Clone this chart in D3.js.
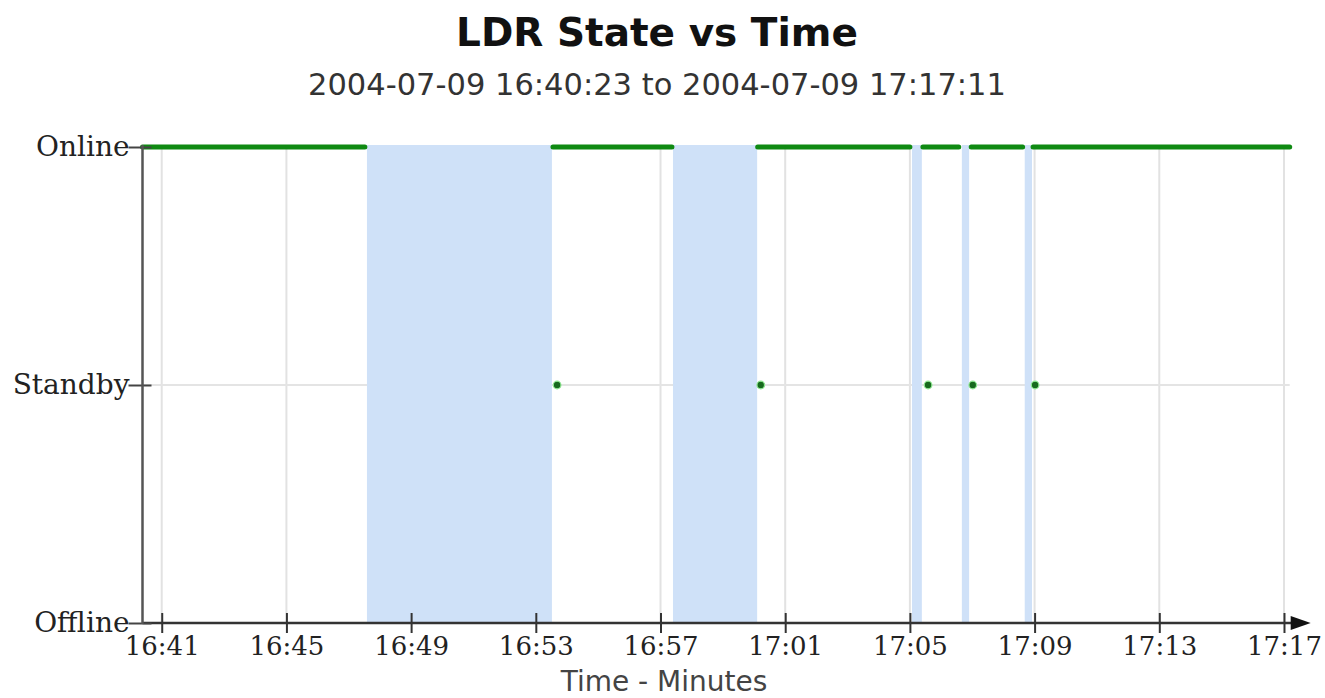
<!DOCTYPE html>
<html><head><meta charset="utf-8">
<script src="https://cdn.jsdelivr.net/npm/d3@7/dist/d3.min.js"></script>
<style>body{margin:0;background:#fff}svg{display:block}</style>
</head><body><svg id="c" width="1325" height="698"></svg>
<script>
const day = "2004-07-09 ";
const rangeStart = "16:40:23";
const rangeEnd = "17:17:11";
const states = ["Offline", "Standby", "Online"];
const tickLabels = ["16:41","16:45","16:49","16:53","16:57","17:01","17:05","17:09","17:13","17:17"];
const onlineStarts = ["16:40:23","16:53:33","17:00:07","17:05:25","17:06:58","17:08:57"];
const onlineEnds   = ["16:47:31","16:57:22","17:05:00","17:06:34","17:08:37","17:17:11"];
const gapStarts = ["16:47:35","16:57:24","17:05:04","17:06:40","17:08:41"];
const gapEnds   = ["16:53:31","17:00:06","17:05:23","17:06:54","17:08:55"];
const standbyTimes = ["16:53:41","17:00:13","17:05:35","17:07:01","17:09:01"];

const parse = d3.timeParse("%Y-%m-%d %H:%M:%S");
const parseHM = d3.timeParse("%Y-%m-%d %H:%M");
const T = s => parse(day + s);

const svg = d3.select("#c");
const x = d3.scaleTime().domain([T(rangeStart), T(rangeEnd)]).range([142.5, 1289.7]);
const y = d3.scalePoint().domain(states).range([623, 147]);

// title
svg.append("text").attr("x", 657).attr("y", 46).attr("text-anchor", "middle")
  .attr("font-family", "DejaVu Sans").attr("font-weight", "bold").attr("font-size", 39)
  .attr("fill", "#111").text("LDR State vs Time");
svg.append("text").attr("x", 657).attr("y", 95).attr("text-anchor", "middle")
  .attr("font-family", "DejaVu Sans").attr("font-size", 30.5)
  .attr("fill", "#333").text(day + rangeStart + " to " + day + rangeEnd);

const ticks = tickLabels.map(t => parseHM(day + t));

// grid
const g = svg.append("g");
g.selectAll("line.vg").data(ticks).enter().append("line")
  .attr("x1", d => x(d)).attr("x2", d => x(d)).attr("y1", y("Online")).attr("y2", y("Offline"))
  .attr("stroke", "#e2e2e2").attr("stroke-width", 2);
g.append("line").attr("x1", x.range()[0]).attr("x2", x.range()[1]).attr("y1", y("Standby")).attr("y2", y("Standby"))
  .attr("stroke", "#e4e4e4").attr("stroke-width", 2);

// gap bands
g.selectAll("rect.band").data(gapStarts.map((s, i) => [T(s), T(gapEnds[i])])).enter().append("rect")
  .attr("x", d => x(d[0])).attr("width", d => x(d[1]) - x(d[0]))
  .attr("y", y("Online") - 2).attr("height", y("Offline") - y("Online") + 2)
  .attr("fill", "#cfe1f8");

// online segments
g.selectAll("line.on").data(onlineStarts.map((s, i) => [T(s), T(onlineEnds[i])])).enter().append("line")
  .attr("x1", d => x(d[0])).attr("x2", d => x(d[1]))
  .attr("y1", y("Online")).attr("y2", y("Online"))
  .attr("stroke", "#0f8a12").attr("stroke-width", 5).attr("stroke-linecap", "round");

// standby points
g.selectAll("circle.sb").data(standbyTimes.map(T)).enter().append("circle")
  .attr("cx", d => x(d)).attr("cy", y("Standby")).attr("r", 3.8)
  .attr("fill", "#176a1e").attr("stroke", "#8ee891").attr("stroke-width", 1.2);

// x axis
const xa = svg.append("g").attr("transform", `translate(0,${y("Offline")})`)
  .call(d3.axisBottom(x).tickValues(ticks).tickFormat(d3.timeFormat("%H:%M")).tickSize(10).tickPadding(4));
xa.select(".domain").remove();
xa.selectAll(".tick line").attr("y1", -10).attr("stroke", "#333").attr("stroke-width", 2);
xa.selectAll(".tick text").attr("font-family", "DejaVu Serif").attr("font-size", 26).attr("fill", "#222");
svg.append("line").attr("x1", x.range()[0]).attr("x2", x.range()[1] + 8)
  .attr("y1", y("Offline")).attr("y2", y("Offline")).attr("stroke", "#333").attr("stroke-width", 2.5);
svg.append("path")
  .attr("d", `M${x.range()[1] + 1},${y("Offline") - 7}L${x.range()[1] + 21},${y("Offline")}L${x.range()[1] + 1},${y("Offline") + 7}Z`)
  .attr("fill", "#111");

// y axis
const ya = svg.append("g").attr("transform", `translate(${x.range()[0]},0)`)
  .call(d3.axisLeft(y).tickSize(12).tickPadding(0));
ya.select(".domain").remove();
ya.selectAll(".tick line").attr("x2", -14).attr("x1", 9).attr("stroke", "#444").attr("stroke-width", 2);
ya.selectAll(".tick text").attr("x", -13).attr("font-family", "DejaVu Serif").attr("font-size", 28).attr("fill", "#222");
svg.append("line").attr("x1", x.range()[0]).attr("x2", x.range()[0])
  .attr("y1", y("Online") - 2).attr("y2", y("Offline") + 1).attr("stroke", "#555").attr("stroke-width", 2.5);

svg.append("text").attr("x", 664).attr("y", 691).attr("text-anchor", "middle")
  .attr("font-family", "DejaVu Sans").attr("font-size", 28).attr("fill", "#444").text("Time - Minutes");
</script></body></html>
